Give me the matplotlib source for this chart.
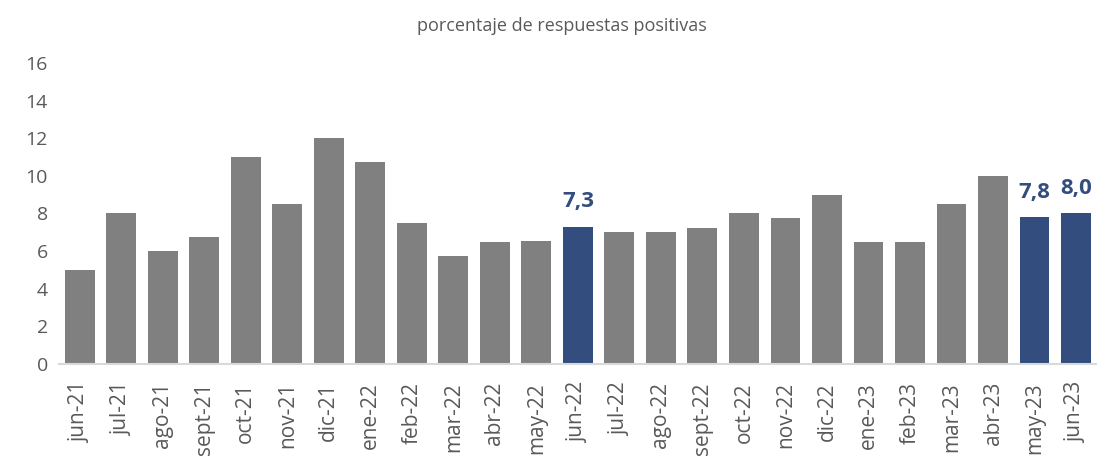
import matplotlib

matplotlib.use("Agg")
import matplotlib.pyplot as plt

plt.rcParams["font.family"] = ["Open Sans", "DejaVu Sans"]

months = [
    "jun-21", "jul-21", "ago-21", "sept-21", "oct-21", "nov-21", "dic-21",
    "ene-22", "feb-22", "mar-22", "abr-22", "may-22", "jun-22", "jul-22",
    "ago-22", "sept-22", "oct-22", "nov-22", "dic-22", "ene-23", "feb-23",
    "mar-23", "abr-23", "may-23", "jun-23",
]
values = [
    5.0, 8.0, 6.0, 6.75, 11.0, 8.5, 12.0, 10.75, 7.5, 5.75, 6.5, 6.55, 7.3,
    7.0, 7.0, 7.25, 8.0, 7.75, 9.0, 6.5, 6.5, 8.5, 10.0, 7.8, 8.0,
]
highlighted = ["jun-22", "may-23", "jun-23"]

gray = "#808080"
blue = "#324D7E"

fig = plt.figure(figsize=(10.97, 4.59), dpi=100)
ax = fig.add_axes([0.0538, 0.207, 0.946, 0.656])

x = range(len(months))
colors = [blue if m in highlighted else gray for m in months]
ax.bar(x, values, width=0.72, color=colors, zorder=2)

for i, (m, v) in enumerate(zip(months, values)):
    if m in highlighted:
        ax.text(i, v + 0.75, f"{v:.1f}".replace(".", ","), ha="center",
                va="bottom", fontsize=16, fontweight="bold", color=blue)

ax.set_xlim(-0.5, len(months) - 0.5)
ax.set_ylim(0, 16)
ax.set_yticks(range(0, 17, 2))
ax.set_xticks(list(x))
ax.set_xticklabels(months, rotation=90, va="top", ha="center")
ax.tick_params(axis="both", length=0, labelcolor="#595959")
ax.tick_params(axis="x", pad=13, labelsize=15)
ax.tick_params(axis="y", pad=8, labelsize=14)

for s in ["top", "right", "left"]:
    ax.spines[s].set_visible(False)
ax.spines["bottom"].set_color("#D9D9D9")
ax.spines["bottom"].set_linewidth(1.5)

fig.text(0.512, 0.943, "porcentaje de respuestas positivas", ha="center",
         va="center", fontsize=13, color="#595959")

fig.savefig("out.png", dpi=100)
